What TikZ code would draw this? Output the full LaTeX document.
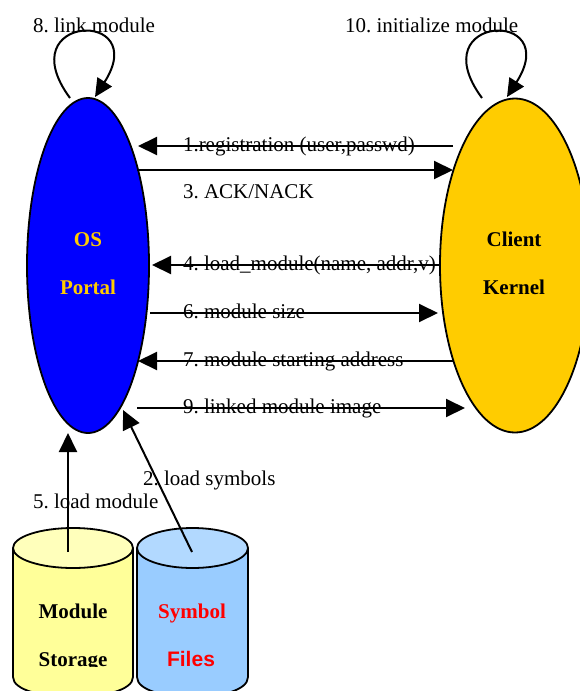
\documentclass[tikz,border=0pt]{standalone}
\usepackage{fontspec}
\setmainfont{Liberation Serif}
\newfontfamily\sansbold{Liberation Sans}
\usetikzlibrary{arrows.meta,shapes.geometric}
\definecolor{portalblue}{RGB}{0,0,255}
\definecolor{kernelgold}{RGB}{255,204,0}
\definecolor{storebody}{RGB}{255,255,153}
\definecolor{storetop}{RGB}{255,255,187}
\definecolor{symbody}{RGB}{153,204,255}
\definecolor{symtop}{RGB}{178,217,255}
\frenchspacing
\begin{document}
\begin{tikzpicture}[x=1pt,y=-1pt,
  every node/.style={font=\fontsize{21}{25}\selectfont, inner sep=0pt, outer sep=0pt},
  msg/.style={line width=2pt, -{Triangle[length=19pt,width=18pt]}},
  selfloop/.style={line width=2pt, -{Triangle[length=18pt,width=17pt]}},
  lbl/.style={anchor=base west},
  boldlbl/.style={anchor=base, font=\fontsize{21}{25}\selectfont\bfseries},
  actor/.style={ellipse, draw, line width=1.8pt},
  drum/.style={line width=1.8pt}
]
\useasboundingbox (0,0) rectangle (579,691);

% --- message labels (set under the actors so the ellipses overlap them)
\node[lbl] (l1) at (183,151) {1.registration (user,passwd)};
\node[lbl] (l3) at (183,198) {3. ACK/NACK};
\node[lbl] (l4) at (183,270) {4. load\_module(name, addr,v)};
\node[lbl] (l6) at (183,318) {6. module size};
\node[lbl] (l7) at (183,366) {7. module starting address};
\node[lbl] (l9) at (183,413) {9. linked module image};
\node[lbl] (l8) at (33,32) {8. link module};
\node[lbl] (l10) at (345,32) {10. initialize module};
\node[lbl] (l5) at (33,508) {5. load module};
\node[lbl] (l2) at (143,485) {2. load symbols};

% --- actors
\node[actor, fill=portalblue, minimum width=122pt, minimum height=335pt] (portal) at (88,265.5) {};
\node[actor, fill=kernelgold, minimum width=150pt, minimum height=334pt] (kernel) at (515,265.5) {};
\node[boldlbl, text=kernelgold] (os) at (88,246) {OS};
\node[boldlbl, text=kernelgold] (portaltxt) at (88,294) {Portal};
\node[boldlbl] (client) at (514,246) {Client};
\node[boldlbl] (kerneltxt) at (514,294) {Kernel};

% --- storage drums
\path[drum, fill=storebody, draw] (13,548) -- (13,677) .. controls (13,703.7) and (133,703.7) .. (133,677) -- (133,548);
\draw[drum, fill=storetop] (73,548) ellipse [x radius=60, y radius=20];
\path[drum, fill=symbody, draw] (137,548) -- (137,677) .. controls (137,703.7) and (248,703.7) .. (248,677) -- (248,548);
\draw[drum, fill=symtop] (192.5,548) ellipse [x radius=55.5, y radius=20];
\node[boldlbl] (module) at (73,618) {Module};
\begin{scope}
  \clip (0,0) rectangle (579,666);
  \node[boldlbl] (storage) at (73,666) {Storage};
\end{scope}
\node[boldlbl, text=red] (symbol) at (192,618) {Symbol};
\node[anchor=base, text=red, font=\fontsize{21}{25}\selectfont\sansbold\bfseries] (files) at (191,666) {Files};

% --- connector end points
\coordinate (p1s) at (453,146);  \coordinate (p1e) at (138,146);
\coordinate (p3s) at (137,170);  \coordinate (p3e) at (453,170);
\coordinate (p4s) at (440,265);  \coordinate (p4e) at (152,265);
\coordinate (p6s) at (150,313);  \coordinate (p6e) at (438,313);
\coordinate (p7s) at (453,361);  \coordinate (p7e) at (138,361);
\coordinate (p9s) at (137,408);  \coordinate (p9e) at (465,408);
\coordinate (p5s) at (68,552);   \coordinate (p5e) at (68,433);
\coordinate (p2s) at (192,552);  \coordinate (p2e) at (123,410);
\coordinate (lls) at (70,98);    \coordinate (lle) at (95,97);
\coordinate (rls) at (482,98);   \coordinate (rle) at (507,97);

% --- messages
\draw[msg] (p1s) -- (p1e);
\draw[msg] (p3s) -- (p3e);
\draw[msg] (p4s) -- (p4e);
\draw[msg] (p6s) -- (p6e);
\draw[msg] (p7s) -- (p7e);
\draw[msg] (p9s) -- (p9e);
\draw[msg] (p5s) -- (p5e);
\draw[msg] (p2s) -- (p2e);

% --- self loops
\draw[selfloop] (lls) .. controls (8,14) and (152,8) .. (lle);
\draw[selfloop] (rls) .. controls (420,14) and (564,8) .. (rle);
\end{tikzpicture}
\end{document}
